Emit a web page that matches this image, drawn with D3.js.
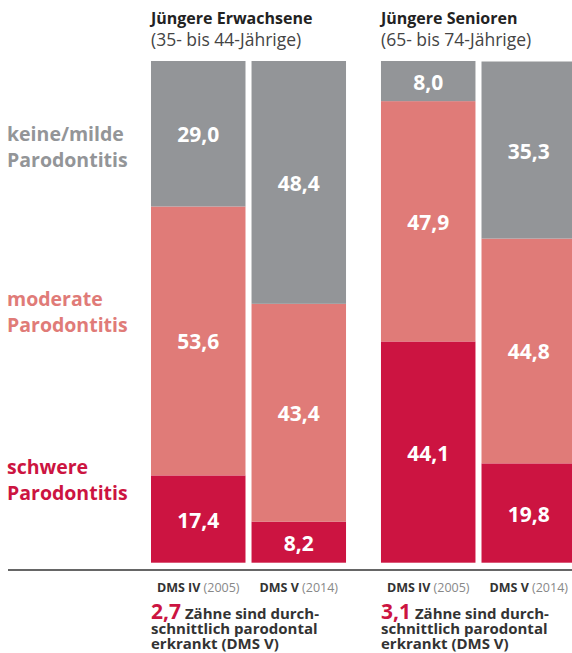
<!DOCTYPE html>
<html>
<head>
<meta charset="utf-8">
<script src="https://cdn.jsdelivr.net/npm/d3@7"></script>
<style>
  body { margin: 0; background: #fff; }
  svg { font-family: "Open Sans", "Noto Sans", sans-serif; }
</style>
</head>
<body>
<svg id="chart"></svg>
<script>
// groups and studies
const groups = ["Jüngere Erwachsene", "Jüngere Senioren"];
const groupSubs = ["(35- bis 44-Jährige)", "(65- bis 74-Jährige)"];
const studies = ["DMS IV", "DMS V"];
const studyYears = ["(2005)", "(2014)"];
const categories = ["schwere", "moderate", "keine"];
const categoryLabels = [["schwere", "Parodontitis"], ["moderate", "Parodontitis"], ["keine/milde", "Parodontitis"]];

// values per bar, bottom to top: schwere, moderate, keine/milde
const schwere = [17.4, 8.2, 44.1, 19.8];
const moderate = [53.6, 43.4, 47.9, 44.8];
const keine = [29.0, 48.4, 8.0, 35.3];

const teethValues = ["2,7", "3,1"];
const noteLines = ["Zähne sind durch-", "schnittlich parodontal", "erkrankt (DMS V)"];

const colors = { schwere: "#cc1441", moderate: "#e07b78", keine: "#939598" };

const W = 572, H = 653;
const svg = d3.select("#chart").attr("width", W).attr("height", H);

// build the bar table
const bars = [];
groups.forEach((g, gi) => {
    studies.forEach((s, si) => {
        const i = gi * 2 + si;
        bars.push({ group: g, study: s, year: studyYears[si], schwere: schwere[i], moderate: moderate[i], keine: keine[i] });
    });
});

const x0 = d3.scaleBand().domain(groups).range([151, 576]).paddingInner(0.152);
const x1 = d3.scaleBand().domain(studies).range([0, x0.bandwidth()]).paddingInner(0.06);
const y = d3.scaleLinear().domain([0, 100]).range([562.7, 61]);

const series = d3.stack().keys(categories)(bars);

const barG = svg.append("g");
series.forEach(ser => {
    barG.selectAll(null)
        .data(ser)
        .enter().append("rect")
        .attr("x", d => x0(d.data.group) + x1(d.data.study))
        .attr("width", x1.bandwidth())
        .attr("y", d => y(d[1]))
        .attr("height", d => y(d[0]) - y(d[1]))
        .attr("fill", colors[ser.key]);

    barG.selectAll(null)
        .data(ser)
        .enter().append("text")
        .attr("x", d => x0(d.data.group) + x1(d.data.study) + x1.bandwidth() / 2)
        .attr("y", d => (y(d[0]) + y(d[1])) / 2 + 8.5)
        .attr("text-anchor", "middle")
        .attr("fill", "#fff")
        .attr("font-weight", 700)
        .attr("font-size", 21)
        .text(d => d3.format(".1f")(d[1] - d[0]).replace(".", ","));
});

// baseline
svg.append("line")
    .attr("x1", 8).attr("x2", W)
    .attr("y1", 570).attr("y2", 570)
    .attr("stroke", "#333").attr("stroke-width", 1.6);

// group headers
groups.forEach((g, gi) => {
    svg.append("text").attr("x", x0(g)).attr("y", 24)
        .attr("font-size", 16).attr("font-weight", 700).attr("fill", "#222").text(g);
    svg.append("text").attr("x", x0(g)).attr("y", 46)
        .attr("font-size", 17.5).attr("fill", "#444").text(groupSubs[gi]);
});

// category labels on the left
const labelY = { keine: 141, moderate: 306, schwere: 474 };
categories.forEach((c, ci) => {
    const t = svg.append("text")
        .attr("font-size", 19.5).attr("font-weight", 700).attr("fill", colors[c]);
    categoryLabels[ci].forEach((line, li) => {
        t.append("tspan").attr("x", 7).attr("y", labelY[c] + li * 26).text(line);
    });
});

// study labels under bars
bars.forEach(b => {
    const t = svg.append("text")
        .attr("x", x0(b.group) + x1(b.study) + x1.bandwidth() / 2)
        .attr("y", 592)
        .attr("text-anchor", "middle")
        .attr("font-size", 12.5);
    t.append("tspan").attr("font-weight", 700).attr("fill", "#333").text(b.study + " ");
    t.append("tspan").attr("fill", "#888").text(b.year);
});

// notes
groups.forEach((g, gi) => {
    const gx = x0(g);
    const t = svg.append("text").attr("x", gx).attr("y", 619);
    t.append("tspan").attr("font-size", 21).attr("font-weight", 700).attr("fill", colors.schwere).text(teethValues[gi]);
    t.append("tspan").attr("font-size", 15).attr("font-weight", 700).attr("fill", "#333").text(" " + noteLines[0]);
    noteLines.slice(1).forEach((line, li) => {
        svg.append("text").attr("x", gx).attr("y", 634 + li * 15)
            .attr("font-size", 15).attr("font-weight", 700).attr("fill", "#333").text(line);
    });
});
</script>
</body>
</html>
